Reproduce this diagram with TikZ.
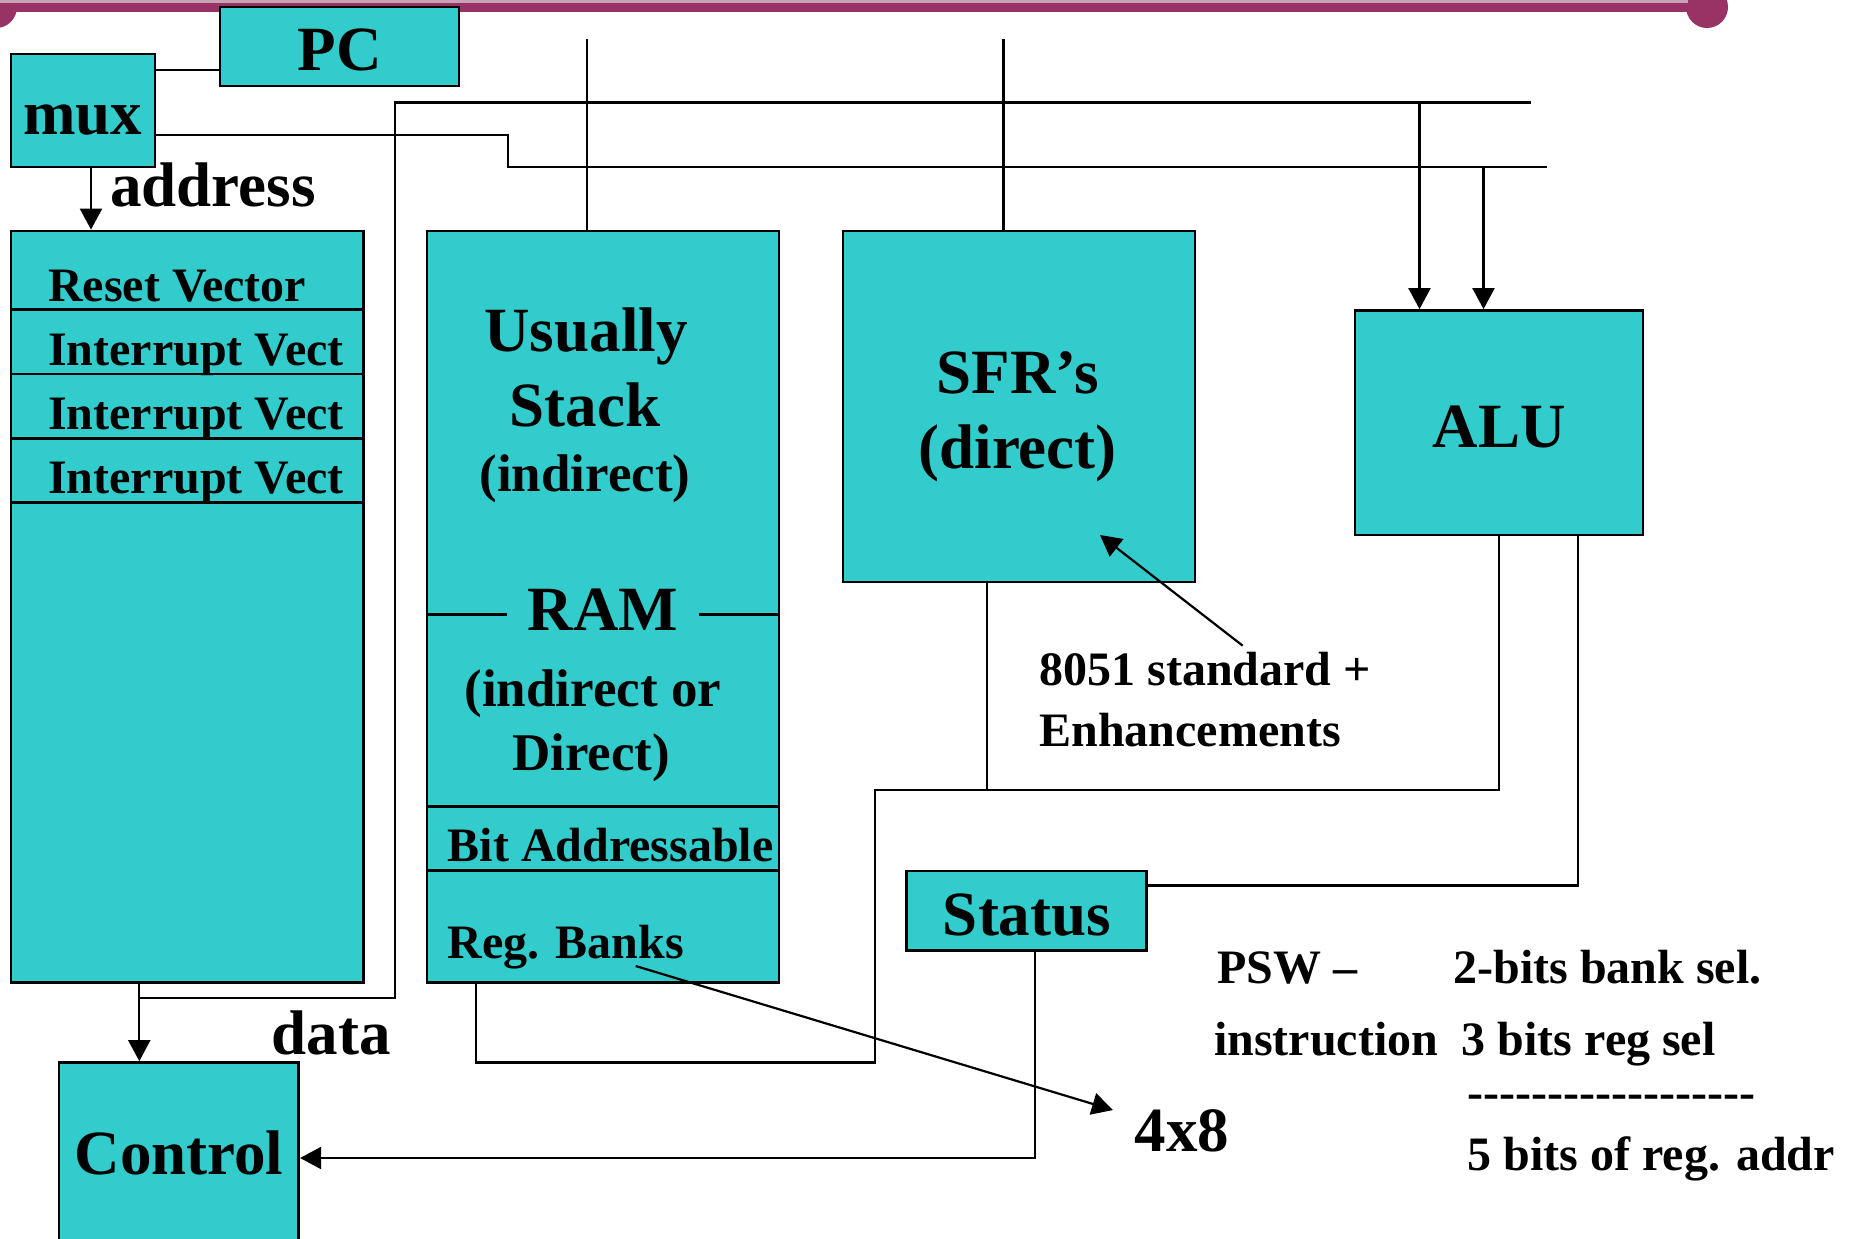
\documentclass[tikz,border=0pt]{standalone}
\usepackage{fontspec}
\setmainfont{Liberation Serif}
\usetikzlibrary{arrows.meta,fit}
\definecolor{boxteal}{HTML}{33CCCC}
\definecolor{barplum}{HTML}{993366}
\definecolor{barpink}{HTML}{C8A2B6}

\begin{document}
\begin{tikzpicture}[x=0.5pt,y=-0.5pt,
  blk/.style={draw, fill=boxteal, line width=1.4pt, inner sep=0pt},
  wire/.style={line width=1.1pt},
  tip/.style={-{Triangle[length=10.5pt,width=11pt]}},
  big/.style={font=\fontsize{31.5}{36}\selectfont\bfseries, inner sep=0pt},
  mid/.style={font=\fontsize{26.5}{30}\selectfont\bfseries, inner sep=0pt},
  small/.style={font=\fontsize{24}{28}\selectfont\bfseries, inner sep=0pt},
]
\useasboundingbox (0,0) rectangle (1851,1238);
\clip (0,0) rectangle (1851,1238);

% title bar with round ends
\fill[barplum] (0,0) rectangle (1707,12.3);
\fill[barplum] (1707,7) circle[radius=21];
\fill[barplum] (-4,7) circle[radius=21];
\fill[barpink] (0,0) rectangle (1688,2.5);

% blocks
\node[blk, fit={(220,7) (459,86)}] (pc) {};
\node[blk, fit={(11,54) (155,167)}] (mux) {};
\node[blk, fit={(11,231) (363.5,982.5)}] (rom) {};
\node[blk, fit={(427,231) (779,982.5)}] (ram) {};
\node[blk, fit={(843,231) (1195,582)}] (sfr) {};
\node[blk, fit={(1355,310.5) (1643,535)}] (alu) {};
\node[blk, fit={(906.6,871) (1146.3,950.3)}] (status) {};
\node[blk, fit={(59,1062.5) (298.7,1262)}] (ctrl) {};

% rows of the code memory
\foreach \yy in {309.3,374,438.3,502.7}
  \draw[line width=1.4pt] (rom.west |- 0,\yy) -- (rom.east |- 0,\yy);
% regions of the data memory
\draw[line width=1.4pt] (ram.west |- 0,614.3) -- (506.7,614.3);
\draw[line width=1.4pt] (699.3,614.3) -- (ram.east |- 0,614.3);
\draw[line width=1.4pt] (ram.west |- 0,806.7) -- (ram.east |- 0,806.7);
\draw[line width=1.4pt] (ram.west |- 0,870.7) -- (ram.east |- 0,870.7);

% free ends of the buses
\coordinate (bus1end) at (1531,102.5);
\coordinate (bus2end) at (1547,166.7);
\coordinate (datajoin) at (139.3,997.7);
\coordinate (ramtop) at (587,39);
\coordinate (sfrtop) at (1003.4,39);
\coordinate (regfrom) at (635.7,966);
\coordinate (regto) at (1113,1110);
\coordinate (notefrom) at (1242.7,645.7);
\coordinate (noteto) at (1100,535);

% connectors
\draw[wire] (mux.east |- 0,69.6) -- (pc.west |- 0,69.6);
\draw[wire] (mux.east |- 0,134.6) -- (507.6,134.6) -- (507.6,166.7) -- (bus2end);
\draw[wire] (bus1end) -- (395,102.5) -- (395,997.7) -- (datajoin);
\draw[wire,tip] (mux.south -| 91,0) -- (rom.north -| 91,0);
\draw[wire,tip] (rom.south -| datajoin) -- (ctrl.north -| datajoin);
\draw[wire] (ram.north -| ramtop) -- (ramtop);
\draw[wire] (sfr.north -| sfrtop) -- (sfrtop);
\draw[wire,tip] (1419.5,102.5) -- (alu.north -| 1419.5,0);
\draw[wire,tip] (1483.5,166.7) -- (alu.north -| 1483.5,0);
\draw[wire] (sfr.south -| 987,0) -- (987,789.8);
\draw[wire] (ram.south -| 475.7,0) |- (874.8,1062.5) |- (1499.2,789.8) -- (alu.south -| 1499.2,0);
\draw[wire] (alu.south -| 1578.3,0) |- (status.east |- 0,885.4);
\draw[wire,tip] (status.south -| 1035.3,0) |- (ctrl.east |- 0,1158);
\draw[wire,tip] (regfrom) -- (regto);
\draw[wire,tip] (notefrom) -- (noteto);

% labels
\node[big, anchor=base] (tpc) at (339.5,70.8) {PC};
\node[big, anchor=base] (tmux) at (82.6,134) {mux};
\node[big, anchor=base west] (taddr) at (109.8,206.6) {address};
\node[small, anchor=base west] (t1) at (47.7,301.7) {Reset Vector};
\node[small, anchor=base west] (t2) at (47.7,365.7) {Interrupt Vect};
\node[small, anchor=base west] (t3) at (47.7,429.3) {Interrupt Vect};
\node[small, anchor=base west] (t4) at (47.7,493.3) {Interrupt Vect};
\node[big, anchor=base] (tus) at (586,351.7) {Usually};
\node[big, anchor=base] (tst) at (585,426.7) {Stack};
\node[mid, anchor=base] (tind) at (585,491.7) {(indirect)};
\node[big, anchor=base] (tram) at (603,630) {RAM};
\node[mid, anchor=base] (tio) at (592.8,706.7) {(indirect or};
\node[mid, anchor=base] (tdir) at (591,770.7) {Direct)};
\node[small, anchor=base west] (tbit) at (447.3,861.7) {Bit Addressable};
\node[small, anchor=base west] (treg) at (447.3,958.3) {Reg. Banks};
\node[big, anchor=base] (tsfr) at (1017.6,393) {SFR’s};
\node[big, anchor=base] (tsd) at (1017.6,468.7) {(direct)};
\node[big, anchor=base] (talu) at (1499,447.4) {ALU};
\node[big, anchor=base] (tstat) at (1027,935) {Status};
\node[big, anchor=base] (tctrl) at (179,1174.6) {Control};
\node[big, anchor=base west] (tdata) at (271.5,1054) {data};
\node[big, anchor=base west] (t48) at (1134.5,1151) {4x8};
\node[small, anchor=base west] (tn1) at (1039,685) {8051 standard +};
\node[small, anchor=base west] (tn2) at (1039,746) {Enhancements};
\node[small, anchor=base west] (tpsw) at (1217,983) {PSW –};
\node[small, anchor=base west] (tins) at (1213.6,1055) {instruction};
\node[small, anchor=base west] (tb2) at (1453,983) {2-bits bank sel.};
\node[small, anchor=base west] (tb3) at (1461.5,1055) {3 bits reg sel};
\node[small, anchor=base west] (tdash) at (1467.4,1108) {-{}-{}-{}-{}-{}-{}-{}-{}-{}-{}-{}-{}-{}-{}-{}-{}-{}-};
\node[small, anchor=base west] (tb5) at (1467.4,1170) {5 bits of reg. addr};
\end{tikzpicture}
\end{document}
